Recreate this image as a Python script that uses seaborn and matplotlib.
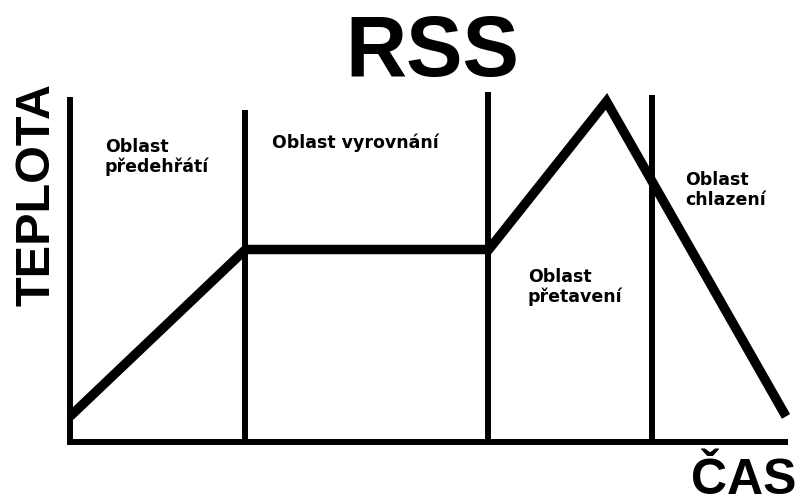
import matplotlib
matplotlib.use("Agg")
import matplotlib.pyplot as plt
import seaborn as sns
import pandas as pd

# ---- data ----
time_s = [0, 88, 210, 269, 359]          # profile time points
temp_c = [19, 143, 143, 253, 19]         # profile temperatures
zone_bounds = [87.7, 209.6, 291.8]       # zone boundary times
zone_tops = [246.7, 260.0, 257.8]        # boundary line heights
zone_labels = ["Oblast\npředehřátí", "Oblast vyrovnání",
               "Oblast\npřetavení", "Oblast\nchlazení"]
label_t = [17.5, 101.3, 229.6, 308.4]
label_T = [200.6, 218.4, 104.0, 176.1]
title = "RSS"
xlabel = "ČAS"
ylabel = "TEPLOTA"

sns.set_style("white")
plt.rcParams['font.family'] = ['Liberation Sans', 'DejaVu Sans']

df = pd.DataFrame({"t": time_s, "T": temp_c})

W, H = 797, 504
fig = plt.figure(figsize=(W / 100, H / 100), dpi=100)
ax = fig.add_axes([70 / W, (H - 442) / H, 718 / W, 350 / H])
ax.set_xlim(0, 360)
ax.set_ylim(0, 260)

sns.lineplot(data=df, x="t", y="T", sort=False, ax=ax, color="black",
             linewidth=6.8, clip_on=False, solid_capstyle="butt",
             solid_joinstyle="miter", zorder=3)

for b, top in zip(zone_bounds, zone_tops):
    ax.plot([b, b], [0, top], color="black", linewidth=4.3,
            solid_capstyle="butt", clip_on=False, zorder=2)

for side in ["top", "right"]:
    ax.spines[side].set_visible(False)
for side in ["left", "bottom"]:
    ax.spines[side].set_linewidth(4.3)
    ax.spines[side].set_color("black")
    ax.spines[side].set_capstyle("projecting")
ax.spines["left"].set_bounds(0, 254)
ax.spines["bottom"].set_bounds(0, 358.5)
ax.set_xticks([])
ax.set_yticks([])
ax.set_xlabel("")
ax.set_ylabel("")
ax.patch.set_alpha(0)

for lab, tx, ty in zip(zone_labels, label_t, label_T):
    ax.text(tx, ty, lab, ha="left", va="baseline", fontsize=12.5,
            fontweight="bold", family=["DejaVu Sans"], linespacing=1.12,
            color="black")

fig.text(432 / W, (H - 76) / H, title, ha="center", va="baseline",
         fontsize=61, fontweight="bold", color="black")
fig.text(50 / W, (H - 194) / H, ylabel, rotation=90, rotation_mode="anchor",
         ha="center", va="baseline", fontsize=35, fontweight="bold",
         color="black")
fig.text(0.999, 0.5 / H, xlabel, ha="right", va="bottom", fontsize=36,
         fontweight="bold", color="black")

fig.savefig("out.png", dpi=100, facecolor="white")
